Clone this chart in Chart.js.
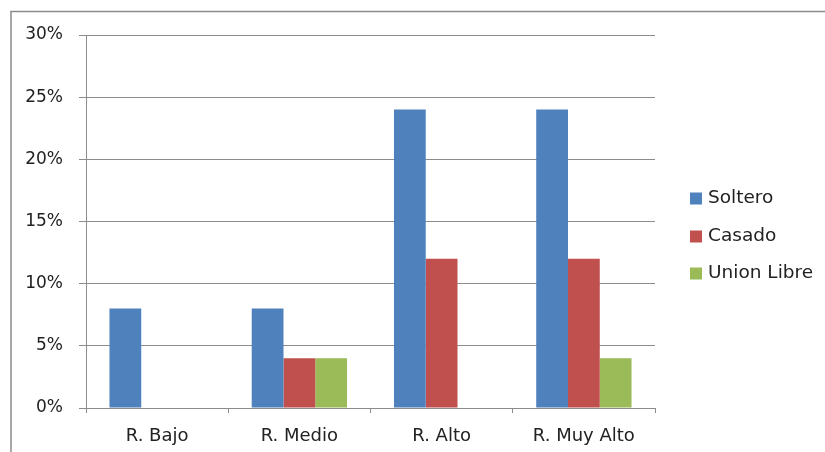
<!DOCTYPE html>
<html><head><meta charset="utf-8">
<script src="https://cdn.jsdelivr.net/npm/chart.js@4/dist/chart.umd.min.js"></script>
<style>html,body{margin:0;padding:0;background:#fff}#wrap{width:825px;height:452px}</style>
</head><body><div id="wrap"><canvas id="c" width="825" height="452"></canvas></div>
<script>
const categories = ["R. Bajo", "R. Medio", "R. Alto", "R. Muy Alto"];
const soltero = [8, 8, 24, 24];
const casado = [0, 4, 12, 12];
const unionLibre = [0, 4, 0, 4];
const seriesNames = ["Soltero", "Casado", "Union Libre"];
const yTicks = [0, 5, 10, 15, 20, 25, 30];
const colors = ["#4F81BD", "#C0504D", "#9BBB59"];
const FONT = "'DejaVu Sans', sans-serif";

const framePlugin = {
  id: 'frame',
  afterDraw(chart) {
    const ctx = chart.ctx;
    ctx.save();
    ctx.strokeStyle = '#8c8c8c';
    ctx.lineWidth = 1.5;
    ctx.beginPath();
    ctx.moveTo(11, 452);
    ctx.lineTo(11, 11.5);
    ctx.lineTo(825, 11.5);
    ctx.stroke();
    // legend
    const centers = [198.5, 236.5, 273.5];
    ctx.font = '18.5px ' + FONT;
    ctx.textBaseline = 'middle';
    ctx.textAlign = 'left';
    chart.data.datasets.forEach((ds, i) => {
      ctx.fillStyle = ds.backgroundColor;
      ctx.fillRect(690, centers[i] - 6, 12, 12);
      ctx.fillStyle = '#222';
      ctx.fillText(ds.label, 708, centers[i]);
    });
    ctx.restore();
  }
};

new Chart(document.getElementById('c'), {
  type: 'bar',
  data: {
    labels: categories,
    datasets: [
      { label: seriesNames[0], data: soltero, backgroundColor: colors[0] },
      { label: seriesNames[1], data: casado, backgroundColor: colors[1] },
      { label: seriesNames[2], data: unionLibre, backgroundColor: colors[2] }
    ]
  },
  options: {
    responsive: false,
    animation: false,
    devicePixelRatio: 1,
    layout: { padding: { left: 0, top: 35, right: 170, bottom: 0 } },
    datasets: { bar: { categoryPercentage: 0.67, barPercentage: 1.0, borderWidth: 0 } },
    plugins: { legend: { display: false }, tooltip: { enabled: false } },
    scales: {
      x: {
        grid: { display: true, drawOnChartArea: false, drawTicks: true, tickLength: 5, color: '#8c8c8c', offset: true },
        border: { display: true, color: '#8c8c8c' },
        ticks: { font: { family: FONT, size: 18 }, color: '#222', padding: 13, maxRotation: 0 },
        afterFit(s) { s.height = 44; }
      },
      y: {
        min: 0, max: 30,
        afterBuildTicks(s) { s.ticks = yTicks.map(v => ({ value: v })); },
        grid: { color: '#8c8c8c', tickLength: 7, drawTicks: true },
        border: { display: true, color: '#8c8c8c' },
        ticks: { font: { family: FONT, size: 17 }, color: '#222', padding: 16, callback: v => v + '%' },
        afterFit(s) { s.width = 86; }
      }
    }
  },
  plugins: [framePlugin]
});
</script></body></html>
